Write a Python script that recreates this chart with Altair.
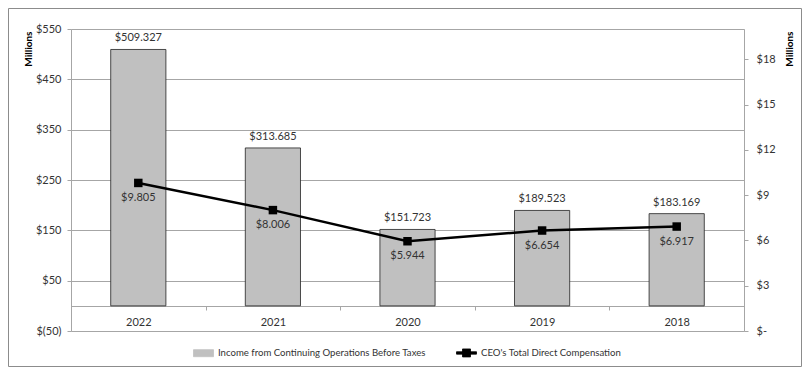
import altair as alt
import pandas as pd

years = ["2022", "2021", "2020", "2019", "2018"]
income = [509.327, 313.685, 151.723, 189.523, 183.169]
ceo_comp = [9.805, 8.006, 5.944, 6.654, 6.917]
series_names = ["Income from Continuing Operations Before Taxes", "CEO's Total Direct Compensation"]
left_ticks = [-50, 50, 150, 250, 350, 450, 550]
right_ticks = [0, 3, 6, 9, 12, 15, 18]

df = pd.DataFrame({"year": years, "income": income, "ceo": ceo_comp})

FONT = "Lato"
TXT = "#333333"
GRID = "#a6a6a6"

xenc = alt.X(
    "year:N", sort=years, title=None,
    scale=alt.Scale(paddingInner=0, paddingOuter=0),
    axis=alt.Axis(orient="bottom", offset=-25, tickBand="extent", labelAngle=0,
                  domainColor=GRID, tickColor=GRID, tickSize=4, labelPadding=6,
                  labelFont=FONT, labelFontSize=11, labelColor=TXT),
)

legend_common = dict(orient="none", legendX=122, legendY=313, direction="horizontal",
                     labelFont=FONT, labelFontSize=9.6, labelColor=TXT, labelLimit=0,
                     symbolSize=400, symbolStrokeColor="#333333", symbolStrokeWidth=0.8,
                     symbolOpacity=1, columnPadding=28, labelOffset=4)

color = alt.Color(
    "series:N", title=None,
    scale=alt.Scale(domain=series_names, range=["#c0c0c0", "#000000"]),
    legend=alt.Legend(**legend_common),
)
shape = alt.Shape(
    "series:N", title=None,
    scale=alt.Scale(domain=series_names,
                    range=["M-1,-0.35H1V0.35H-1Z",
                           "M-1,-0.12H1V0.12H-1Z M-0.4,-0.4H0.4V0.4H-0.4Z"]),
    legend=alt.Legend(**legend_common),
)

yleft = alt.Y(
    "income:Q", title="Millions",
    scale=alt.Scale(domain=[-50, 550], nice=False, zero=False),
    axis=alt.Axis(orient="left", values=left_ticks, grid=True, gridColor=GRID,
                  domainColor=GRID, tickColor=GRID, tickSize=4, labelPadding=6,
                  labelExpr="datum.value < 0 ? '$(' + abs(datum.value) + ')' : '$' + datum.value",
                  labelFont=FONT, labelFontSize=11, labelColor=TXT,
                  titleFont=FONT, titleFontSize=10, titleFontWeight="bold", titleColor="#000",
                  titleAnchor="end", titleAlign="right", titleAngle=-90, titleX=-43, titleY=2,
                  titleBaseline="middle"),
)
yright = alt.Y(
    "ceo:Q", title="Millions",
    scale=alt.Scale(domain=[0, 20], nice=False),
    axis=alt.Axis(orient="right", values=right_ticks, grid=False,
                  domainColor=GRID, tickColor=GRID, tickSize=4, labelPadding=8,
                  labelExpr="datum.value == 0 ? '$-' : '$' + datum.value",
                  labelFont=FONT, labelFontSize=11, labelColor=TXT,
                  titleFont=FONT, titleFontSize=10, titleFontWeight="bold", titleColor="#000",
                  titleAnchor="end", titleAlign="right", titleAngle=-90, titleX=45, titleY=2,
                  titleBaseline="middle"),
)

base = alt.Chart(df).encode(x=xenc)

bars = base.transform_calculate(series="'" + series_names[0] + "'").mark_bar(
    width=alt.RelativeBandSize(0.41), stroke="#222222", strokeWidth=0.8
).encode(y=yleft, color=color)

bar_text = base.transform_calculate(lbl="'$' + format(datum.income, '.3f')").mark_text(
    dy=-6, baseline="bottom", font=FONT, fontSize=11, color=TXT
).encode(y=alt.Y("income:Q"), text="lbl:N")

line = base.transform_calculate(series='"' + series_names[1] + '"').mark_line(
    strokeWidth=2.5
).encode(y=yright, color=color)

points = base.mark_point(
    filled=True, opacity=1, size=72, shape="square", color="#000000"
).encode(y=alt.Y("ceo:Q"))

legend_carrier = base.transform_calculate(series='"' + series_names[1] + '"').mark_point(
    filled=True, opacity=0
).encode(y=alt.Y("ceo:Q"), color=color, shape=shape)

line_text = base.transform_calculate(lbl="'$' + format(datum.ceo, '.3f')").mark_text(
    dy=15, baseline="middle", font=FONT, fontSize=11, color=TXT
).encode(y=alt.Y("ceo:Q"), text="lbl:N")

left = alt.layer(bars, bar_text)
right = alt.layer(line, points, legend_carrier, line_text)

border = alt.Chart(pd.DataFrame({"a": [0]})).mark_rect(
    filled=False, stroke="#8c8c8c", strokeWidth=1
).encode(x=alt.value(-62.5), x2=alt.value(730.5), y=alt.value(-20.5), y2=alt.value(337.5))

chart = alt.layer(left, right, border).resolve_scale(y="independent").properties(
    width=673, height=302,
    autosize=alt.AutoSizeParams(type="none"),
    padding={"left": 63, "top": 21, "right": 58, "bottom": 38},
).configure_view(stroke=None).configure(background="white")

chart.save("out.html", embed_options={"renderer": "svg", "actions": False})
